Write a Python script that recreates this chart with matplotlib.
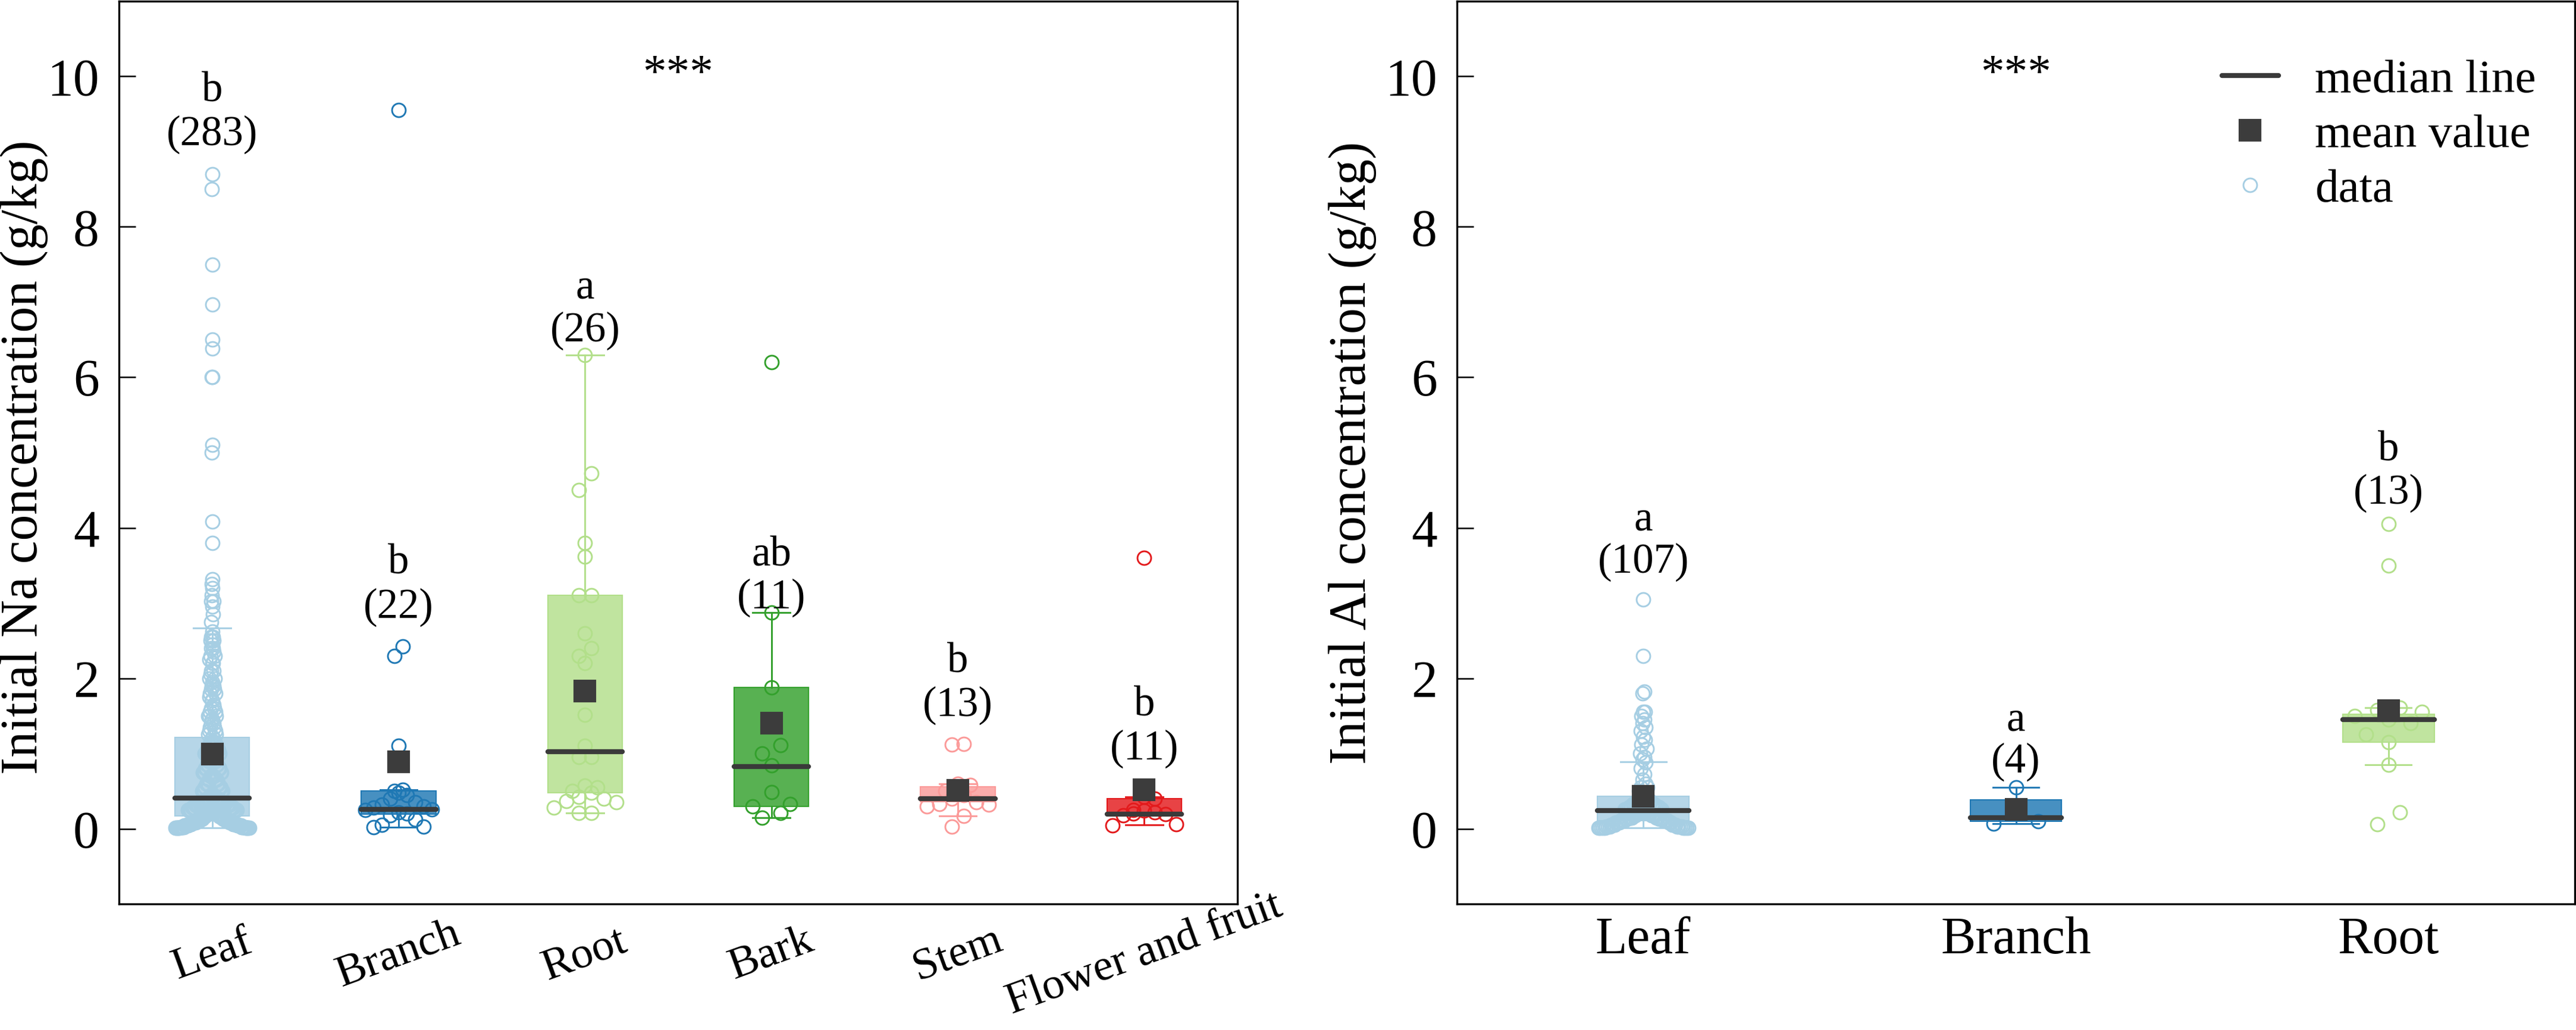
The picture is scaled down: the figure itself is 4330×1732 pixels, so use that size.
import numpy as np
import matplotlib
matplotlib.use("Agg")
import matplotlib.pyplot as plt
from matplotlib.lines import Line2D
from matplotlib.colors import to_rgba

plt.rcParams['font.family'] = ['Liberation Serif', 'DejaVu Serif']

# ---------------- data: Na panel ----------------
na_categories = ['Leaf', 'Branch', 'Root', 'Bark', 'Stem', 'Flower and fruit']
na_q1 = [0.17, 0.19, 0.48, 0.30, 0.36, 0.17]
na_median = [0.41, 0.26, 1.02, 0.83, 0.40, 0.19]
na_q3 = [1.21, 0.50, 3.10, 1.88, 0.56, 0.40]
na_whislo = [0.01, 0.02, 0.21, 0.15, 0.17, 0.05]
na_whishi = [2.67, 0.52, 6.30, 2.87, 0.60, 0.42]
na_mean = [0.99, 0.89, 1.83, 1.40, 0.51, 0.52]
na_letters = ['b', 'b', 'a', 'ab', 'b', 'b']
na_counts_txt = ['(283)', '(22)', '(26)', '(11)', '(13)', '(11)']
na_letter_y = [9.81, 3.53, 7.19, 3.63, 2.22, 1.64]
na_count_y = [9.23, 2.94, 6.62, 3.07, 1.64, 1.06]

leaf_na_vals = [8.70, 8.50, 7.50, 6.97, 6.50, 6.38, 6.00, 5.10, 5.00, 4.08, 3.80, 3.32,
                3.25, 3.20, 3.10, 3.02, 2.95, 2.85, 2.75,
                2.62, 2.55, 2.50, 2.45, 2.40, 2.35, 2.30, 2.25, 2.20, 2.10, 2.05, 2.00,
                1.95, 1.90, 1.85, 1.80, 1.75, 1.70, 1.65, 1.60, 1.55, 1.50, 1.45, 1.40,
                1.35, 1.30, 1.25, 1.21,
                1.15, 1.10, 1.05, 1.00, 0.95, 0.90, 0.85, 0.80, 0.75, 0.70, 0.65, 0.60,
                0.55, 0.50, 0.45,
                0.40, 0.37, 0.34, 0.31, 0.28, 0.25, 0.22, 0.19,
                0.16, 0.13, 0.10, 0.08, 0.06, 0.04, 0.02, 0.01]
leaf_na_counts = [1, 1, 1, 1, 1, 1, 2, 1, 1, 1, 1, 1,
                  1, 1, 1, 2, 1, 1, 1,
                  1, 2, 2, 1, 2, 1, 2, 1, 2, 2, 1, 2,
                  1, 2, 2, 2, 1, 2, 1, 2, 2, 3, 2, 2,
                  2, 2, 2, 2,
                  4, 4, 4, 5, 4, 5, 4, 5, 5, 5, 5, 5,
                  5, 5, 5,
                  9, 9, 9, 9, 9, 9, 9, 8,
                  7, 8, 8, 9, 9, 10, 10, 11]
branch_na = [9.55, 2.42, 2.30, 1.10, 0.52, 0.50, 0.48, 0.45, 0.40, 0.35, 0.32, 0.30,
             0.28, 0.26, 0.25, 0.22, 0.20, 0.18, 0.12, 0.05, 0.03, 0.02]
root_na = [6.30, 4.72, 4.50, 3.80, 3.62, 3.10, 3.10, 2.60, 2.40, 2.30, 2.20, 1.51, 1.10,
           0.95, 0.95, 0.57, 0.55, 0.50, 0.48, 0.42, 0.40, 0.37, 0.35, 0.28, 0.21, 0.21]
bark_na = [6.20, 2.87, 1.88, 1.11, 1.00, 0.84, 0.49, 0.33, 0.30, 0.21, 0.15]
stem_na = [1.13, 1.12, 0.60, 0.58, 0.50, 0.45, 0.40, 0.35, 0.33, 0.32, 0.30, 0.17, 0.03]
flower_na = [3.60, 0.42, 0.40, 0.25, 0.24, 0.22, 0.20, 0.19, 0.18, 0.06, 0.04]

# ---------------- data: Al panel ----------------
al_categories = ['Leaf', 'Branch', 'Root']
al_q1 = [0.11, 0.10, 1.15]
al_median = [0.24, 0.15, 1.45]
al_q3 = [0.43, 0.38, 1.52]
al_whislo = [0.01, 0.07, 0.85]
al_whishi = [0.89, 0.55, 1.61]
al_mean = [0.43, 0.26, 1.57]
al_letters = ['a', 'a', 'b']
al_counts_txt = ['(107)', '(4)', '(13)']
al_letter_y = [4.11, 1.44, 5.03]
al_count_y = [3.54, 0.89, 4.46]

leaf_al_vals = [3.05, 2.30, 1.82, 1.80, 1.55, 1.50, 1.45, 1.40, 1.35, 1.30, 1.22, 1.18,
                1.12, 1.06, 1.00, 0.95, 0.92,
                0.88, 0.80, 0.72, 0.65, 0.60, 0.55, 0.50, 0.46,
                0.41, 0.37, 0.33, 0.29, 0.26, 0.24,
                0.21, 0.18, 0.15, 0.13, 0.11,
                0.08, 0.05, 0.03, 0.01]
leaf_al_counts = [1, 1, 1, 1, 2, 1, 1, 1, 1, 1, 1, 1,
                  1, 1, 1, 1, 1,
                  1, 1, 1, 1, 1, 2, 1, 1,
                  4, 4, 5, 5, 5, 4,
                  5, 5, 5, 5, 6,
                  5, 6, 7, 9]
branch_al = [0.55, 0.20, 0.10, 0.07]
root_al = [4.05, 3.50, 1.61, 1.58, 1.55, 1.50, 1.45, 1.40, 1.25, 1.15, 0.85, 0.22, 0.06]

colors = ['#a6cee3', '#1f78b4', '#b2df8a', '#33a02c', '#fb9a99', '#e31a1c']
DARK = '#3a3a3a'
MS_PT = 5.5


def bin_offsets(vals, width, bin_h=0.25, smax=0.1):
    vals = np.asarray(vals, float)
    bins = np.floor(vals / bin_h + 1e-9).astype(int)
    cnt = np.bincount(bins - bins.min())
    s = min(smax, width / cnt.max())
    off = np.zeros_like(vals)
    for b in np.unique(bins):
        idx = np.where(bins == b)[0]
        idx = idx[np.argsort(-vals[idx], kind='stable')]
        n = len(idx)
        for r, i in enumerate(idx):
            if n % 2 == 1:
                mag = ((r + 1) // 2) * s
                sign = 1 if r % 2 == 1 else -1
            else:
                mag = (r // 2 + 0.5) * s
                sign = 1 if r % 2 == 0 else -1
            off[i] = sign * mag
    return off


def draw_panel(ax, cats, q1, med, q3, wlo, whi, mean, pts, width, smax):
    pos = np.arange(1, len(cats) + 1)
    for i, p in enumerate(pts):
        v = np.asarray(p, float)
        off = bin_offsets(v, width, smax=smax)
        ax.plot(pos[i] + off, v, ls='none', marker='o', ms=MS_PT, mfc='none',
                mec=colors[i], mew=0.7, zorder=1)
    stats = [dict(med=med[i], q1=q1[i], q3=q3[i], whislo=wlo[i], whishi=whi[i],
                  mean=mean[i], fliers=[]) for i in range(len(cats))]
    bp = ax.bxp(stats, positions=pos, widths=width, capwidths=width / 2,
                patch_artist=True, showmeans=True, showfliers=False,
                manage_ticks=False,
                meanprops=dict(marker='s', markerfacecolor='#3c3c3c',
                               markeredgecolor='#3c3c3c', markersize=8.2),
                medianprops=dict(color=DARK, lw=2.0, solid_capstyle='round'))
    for i in range(len(cats)):
        c = colors[i]
        b = bp['boxes'][i]
        b.set_facecolor(to_rgba(c, 0.82))
        b.set_edgecolor(c)
        b.set_linewidth(0.5)
        b.set_zorder(2)
        for ln in bp['whiskers'][2 * i:2 * i + 2] + bp['caps'][2 * i:2 * i + 2]:
            ln.set_color(c)
            ln.set_linewidth(0.7)
            ln.set_zorder(1.5)
        bp['medians'][i].set_zorder(4)
        bp['means'][i].set_zorder(5)
    return pos


fig = plt.figure(figsize=(4330 / 300, 1732 / 300), dpi=300)
ax1 = fig.add_axes([200 / 4330, 212 / 1732, 1880 / 4330, 1518 / 1732])
ax2 = fig.add_axes([2449 / 4330, 212 / 1732, 1879 / 4330, 1518 / 1732])

leaf_na = np.repeat(leaf_na_vals, leaf_na_counts)
leaf_al = np.repeat(leaf_al_vals, leaf_al_counts)

for ax in (ax1, ax2):
    ax.set_ylim(-1, 11)
    ax.set_yticks([0, 2, 4, 6, 8, 10])
    ax.tick_params(axis='y', direction='in', length=6.7, width=0.6, labelsize=21, pad=8)
    for sp in ax.spines.values():
        sp.set_linewidth(0.8)
        sp.set_color('black')

ax1.set_xlim(0.5, 6.5)
ax2.set_xlim(0.5, 3.5)

pos1 = draw_panel(ax1, na_categories, na_q1, na_median, na_q3, na_whislo, na_whishi,
                  na_mean, [leaf_na, branch_na, root_na, bark_na, stem_na, flower_na],
                  0.4, 0.1)
pos2 = draw_panel(ax2, al_categories, al_q1, al_median, al_q3, al_whislo, al_whishi,
                  al_mean, [leaf_al, branch_al, root_al], 0.245, 0.06)

ax1.set_xticks(pos1)
ax1.set_xticklabels(na_categories, rotation=20, rotation_mode='anchor',
                    ha='center', va='center', fontsize=18)
ax1.tick_params(axis='x', length=0, pad=20.5)
ax2.set_xticks(pos2)
ax2.set_xticklabels(al_categories, fontsize=21)
ax2.tick_params(axis='x', length=0, pad=5)

ax1.set_ylabel('Initial Na concentration (g/kg)', fontsize=21)
ax1.yaxis.set_label_coords(-0.0633, 0.495)
ax2.set_ylabel('Initial Al concentration (g/kg)', fontsize=21)
ax2.yaxis.set_label_coords(-0.0718, 0.5)

for i, p in enumerate(pos1):
    ax1.text(p, na_letter_y[i], na_letters[i], ha='center', va='center', fontsize=17)
    ax1.text(p, na_count_y[i], na_counts_txt[i], ha='center', va='center', fontsize=17)
for i, p in enumerate(pos2):
    ax2.text(p, al_letter_y[i], al_letters[i], ha='center', va='center', fontsize=17)
    ax2.text(p, al_count_y[i], al_counts_txt[i], ha='center', va='center', fontsize=17)

ax1.text(3.5, 10.02, '***', ha='center', va='center', fontsize=19)
ax2.text(2.0, 10.02, '***', ha='center', va='center', fontsize=19)

handles = [Line2D([], [], color=DARK, lw=2.0, solid_capstyle='round'),
           Line2D([], [], ls='none', marker='s', color='#3c3c3c', ms=8.2),
           Line2D([], [], ls='none', marker='o', mfc='none', mec=colors[0], ms=MS_PT, mew=0.7)]
ax2.legend(handles, ['median line', 'mean value', 'data'], loc='upper left',
           bbox_to_anchor=(0.6844, 0.936), frameon=False, fontsize=19,
           borderpad=0, borderaxespad=0, handlelength=1.2, handletextpad=0.77,
           labelspacing=0.25)

fig.savefig('out.png', dpi=300)
